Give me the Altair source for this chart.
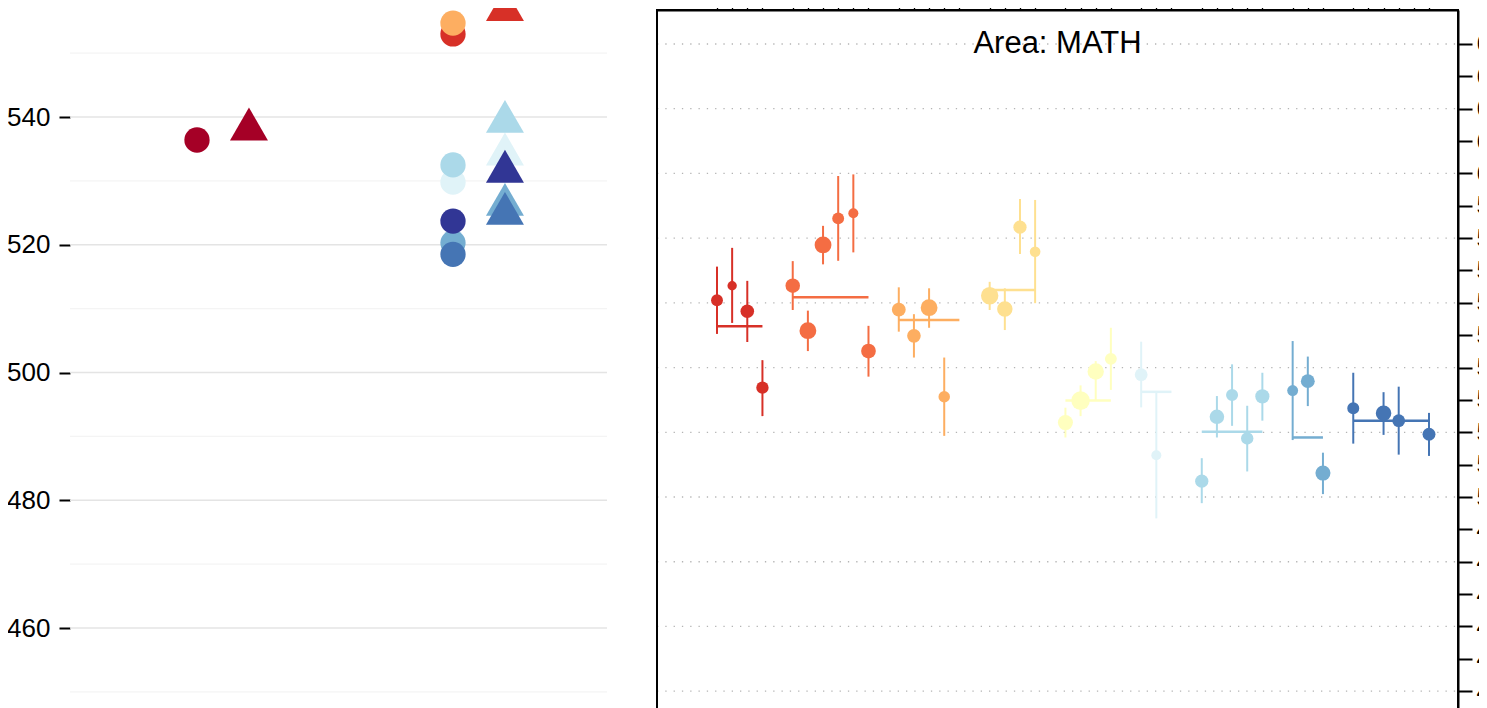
import altair as alt
import pandas as pd

FONT = "Liberation Sans"

# ---------------- Left panel data ----------------
left_pos = [1, 1, 2, 2, 2, 2, 2, 2, 2, 2, 2, 2, 2, 2, 2, 2]
left_shape = ["circle", "triangle-up",
              "circle", "triangle-up", "circle", "triangle-up",
              "circle", "triangle-up", "circle", "triangle-up",
              "circle", "triangle-up", "circle", "triangle-up",
              "circle", "triangle-up"]
left_color = ["#a50026", "#a50026",
              "#d73027", "#d73027", "#fdae61", "#fdae61",
              "#e0f3f8", "#e0f3f8", "#abd9e9", "#abd9e9",
              "#74add1", "#74add1", "#313695", "#313695",
              "#4575b4", "#4575b4"]
left_value = [536.4, 538.9,
              553.0, 557.6, 554.7, 560.0,
              529.8, 535.0, 532.5, 540.1,
              520.3, 527.1, 523.7, 532.3,
              518.5, 525.7]
left_ticks = [460, 480, 500, 520, 540]
left_grid = [450, 460, 470, 480, 490, 500, 510, 520, 530, 540, 550]

# ---------------- Right panel data ----------------
group_colors = ["#d73027", "#f46d43", "#fdae61", "#fee090", "#ffffbf",
                "#e0f3f8", "#abd9e9", "#74add1", "#4575b4"]
r_group = [0, 0, 0, 0,
           1, 1, 1, 1, 1, 1,
           2, 2, 2, 2,
           3, 3, 3, 3,
           4, 4, 4, 4,
           5, 5,
           6, 6, 6, 6, 6,
           7, 7, 7,
           8, 8, 8, 8]
r_idx = [0, 1, 2, 3,
         5, 6, 7, 8, 9, 10,
         12, 13, 14, 15,
         18, 19, 20, 21,
         23, 24, 25, 26,
         28, 29,
         32, 33, 34, 35, 36,
         38, 39, 40,
         42, 44, 45, 47]
r_value = [560.8, 565.3, 557.4, 533.8,
           565.3, 551.4, 577.9, 586.1, 587.7, 545.1,
           557.9, 549.8, 558.5, 531.0,
           562.2, 558.1, 583.4, 575.8,
           523.0, 529.8, 538.8, 542.7,
           537.8, 512.9,
           504.9, 524.8, 531.5, 518.1, 531.1,
           532.9, 535.8, 507.4,
           527.4, 525.9, 523.6, 519.4]
r_lo = [550.4, 553.8, 547.9, 525.0,
        557.8, 545.1, 571.9, 573.0, 575.6, 537.2,
        551.1, 543.1, 552.3, 518.9,
        557.8, 551.6, 575.1, 559.9,
        518.4, 525.0, 530.0, 533.1,
        527.7, 493.4,
        498.1, 518.4, 522.0, 507.9, 523.6,
        517.6, 528.1, 500.9,
        516.5, 519.2, 513.1, 512.7]
r_hi = [571.2, 577.0, 566.8, 542.3,
        572.9, 557.6, 583.8, 599.2, 599.7, 552.9,
        564.8, 556.5, 564.5, 543.1,
        566.5, 564.5, 592.1, 591.8,
        527.6, 534.5, 542.0, 552.3,
        548.0, 532.4,
        512.0, 531.2, 541.0, 528.2, 538.4,
        548.2, 543.4, 513.7,
        538.4, 532.4, 534.1, 526.0]
r_weight = [45, 28, 59, 49,
            67, 90, 90, 45, 32, 69,
            61, 59, 90, 42,
            96, 76, 56, 36,
            72, 110, 85, 45,
            52, 32,
            56, 67, 46, 49, 64,
            38, 61, 72,
            46, 77, 52, 53]
mean_start = [0, 5, 12, 18, 23, 28, 32, 38, 42]
mean_end = [3, 10, 16, 21, 26, 30, 36, 40, 47]
mean_value = [552.8, 561.7, 554.7, 564.0, 529.8, 532.5, 520.2, 518.4, 523.6]
x_ticks = [0, 1, 2, 3, 5, 6, 7, 8, 9, 10, 12, 13, 14, 15, 16, 18, 19, 20, 21,
           23, 24, 25, 26, 28, 29, 30, 32, 33, 34, 35, 36, 38, 39, 40,
           42, 43, 44, 45, 46, 47]
right_ticks = list(range(420, 650, 10))
right_grid = list(range(440, 650, 20))
panel_label = "Area: MATH"

# ---------------- layout (pixels) ----------------
W, H = 1388, 698
xl_scale = alt.Scale(domain=[0.5039, 2.6016], range=[0, 537], zero=False, nice=False)
yl_scale = alt.Scale(domain=[460, 540], range=[618, 107], zero=False, nice=False)
XR_LO, XR_HI = -3.96, 48.914
YR_LO, YR_HI = 420, 650.5
xr_scale = alt.Scale(domain=[XR_LO, XR_HI], range=[587, W], zero=False, nice=False)
yr_scale = alt.Scale(domain=[YR_LO, YR_HI], range=[745.9, 0], zero=False, nice=False)

yl_axis = alt.Axis(values=left_ticks, orient="left", title=None, domain=False, grid=False,
                   tickSize=11, tickWidth=2, tickColor="black", labelPadding=9,
                   labelFontSize=26, labelFont=FONT, labelColor="black")
yr_axis = alt.Axis(values=right_ticks, orient="right", title=None, domain=True, grid=False,
                   domainColor="black", domainWidth=2, tickSize=14, tickWidth=2,
                   tickColor="black", labelPadding=4, labelFontSize=26, labelFont=FONT,
                   labelColor="black")
xr_axis = alt.Axis(values=x_ticks, orient="top", title=None, labels=False, grid=False,
                   domain=True, domainColor="black", domainWidth=2, tickSize=10,
                   tickWidth=1.3, tickColor="black")

# ---------------- Left panel ----------------
TRI_OFFSET = 0.203
ldf = pd.DataFrame({"pos": left_pos, "shape": left_shape, "color": left_color,
                    "value": left_value})
ldf["x"] = ldf["pos"] + (ldf["shape"] == "triangle-up") * TRI_OFFSET
ldf["order"] = range(len(ldf))

lgrid = pd.DataFrame({"v": left_grid})
lgrid["col"] = ["#e4e4e4" if v % 20 == 0 else "#f4f4f4" for v in left_grid]
lgrid["x0"] = 0.5039
lgrid["x1"] = 2.6016

left_grid_layer = alt.Chart(lgrid).mark_rule(strokeWidth=1.3).encode(
    x=alt.X("x0:Q", scale=xl_scale, axis=None),
    x2="x1:Q",
    y=alt.Y("v:Q", scale=yl_scale, axis=yl_axis),
    color=alt.Color("col:N", scale=None),
)
left_circles = alt.Chart(ldf[ldf["shape"] == "circle"]).mark_point(
    filled=True, opacity=1, shape="circle", size=640).encode(
    x=alt.X("x:Q", scale=xl_scale, axis=None),
    y=alt.Y("value:Q", scale=yl_scale, axis=yl_axis),
    color=alt.Color("color:N", scale=None),
    order="order:Q",
)
left_tris = alt.Chart(ldf[ldf["shape"] == "triangle-up"]).mark_point(
    filled=True, opacity=1, shape="triangle-up", size=1444).encode(
    x=alt.X("x:Q", scale=xl_scale, axis=None),
    y=alt.Y("value:Q", scale=yl_scale, axis=yl_axis),
    color=alt.Color("color:N", scale=None),
    order="order:Q",
)
left = alt.layer(left_grid_layer, left_circles, left_tris)

# ---------------- Right panel ----------------
rdf = pd.DataFrame({"idx": r_idx, "value": r_value, "lo": r_lo, "hi": r_hi,
                    "w": r_weight, "color": [group_colors[g] for g in r_group]})
mdf = pd.DataFrame({"x0": mean_start, "x1": mean_end, "value": mean_value,
                    "color": group_colors})
rgrid = pd.DataFrame({"v": right_grid})
rgrid["x0"] = XR_LO
rgrid["x1"] = XR_HI
frame = pd.DataFrame({"x0": [XR_LO], "x1": [XR_HI], "y0": [YR_LO], "y1": [YR_HI]})
label_df = pd.DataFrame({"label": [panel_label], "x": [(XR_LO + XR_HI) / 2], "y": [640]})

right_grid_layer = alt.Chart(rgrid).mark_rule(
    strokeWidth=1.3, strokeDash=[1.3, 7], color="#b4b4b4").encode(
    x=alt.X("x0:Q", scale=xr_scale, axis=xr_axis),
    x2="x1:Q",
    y=alt.Y("v:Q", scale=yr_scale, axis=yr_axis),
)
frame_layer = alt.Chart(frame).mark_rect(
    fillOpacity=0, stroke="black", strokeWidth=2).encode(
    x=alt.X("x0:Q", scale=xr_scale, axis=xr_axis),
    x2="x1:Q",
    y=alt.Y("y0:Q", scale=yr_scale, axis=yr_axis),
    y2="y1:Q",
)
mean_layer = alt.Chart(mdf).mark_rule(strokeWidth=2.5).encode(
    x=alt.X("x0:Q", scale=xr_scale, axis=xr_axis),
    x2="x1:Q",
    y=alt.Y("value:Q", scale=yr_scale, axis=yr_axis),
    color=alt.Color("color:N", scale=None),
)
err_layer = alt.Chart(rdf).mark_rule(strokeWidth=2).encode(
    x=alt.X("idx:Q", scale=xr_scale, axis=xr_axis),
    y=alt.Y("lo:Q", scale=yr_scale, axis=yr_axis),
    y2="hi:Q",
    color=alt.Color("color:N", scale=None),
)
pt_layer = alt.Chart(rdf).mark_point(filled=True, opacity=1, shape="circle").encode(
    x=alt.X("idx:Q", scale=xr_scale, axis=xr_axis),
    y=alt.Y("value:Q", scale=yr_scale, axis=yr_axis),
    color=alt.Color("color:N", scale=None),
    size=alt.Size("w:Q", scale=alt.Scale(domain=[0, 120], range=[0, 377], zero=True),
                  legend=None),
)
label_layer = alt.Chart(label_df).mark_text(
    fontSize=31, font=FONT, color="black", baseline="middle", align="center").encode(
    x=alt.X("x:Q", scale=xr_scale, axis=xr_axis),
    y=alt.Y("y:Q", scale=yr_scale, axis=yr_axis),
    text="label:N",
)
right = alt.layer(right_grid_layer, frame_layer, mean_layer, err_layer, pt_layer, label_layer)

chart = alt.layer(left, right).resolve_scale(
    x="independent", y="independent", size="independent"
).properties(
    width=W, height=H,
    padding={"left": 62, "top": 2, "right": 21, "bottom": 0},
    autosize=alt.AutoSizeParams(type="none"),
).configure(background="white").configure_view(stroke=None)

chart.save("out.html", embed_options={"renderer": "svg", "actions": False})
